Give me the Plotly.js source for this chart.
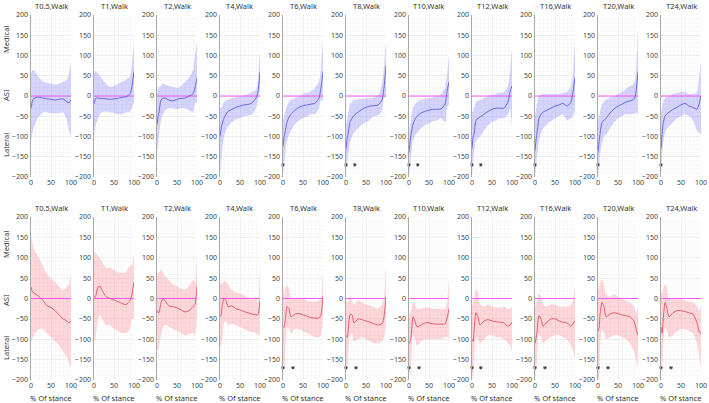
<!DOCTYPE html>
<html><head><meta charset="utf-8">
<script src="https://cdn.plot.ly/plotly-3.0.1.min.js"></script>
<style>html,body{margin:0;padding:0;background:#fff}#c{width:709px;height:403px}</style>
</head><body><div id="c"></div>
<script>
// ---- data ----
const titles = ["T0.5,Walk","T1,Walk","T2,Walk","T4,Walk","T6,Walk","T8,Walk","T10,Walk","T12,Walk","T16,Walk","T20,Walk","T24,Walk"];
const xPct = [0,3,5,10,15,20,30,40,50,60,70,80,90,95,100];
const yTicks = [-200,-150,-100,-50,0,50,100,150,200];
const xTicks = [0,50,100];

const topMean = [
 [-30,-15,-8,-5,-3,-3,-5,-7,-8,-10,-8,-7,-15,-17,-10],
 [-20,-8,-5,-5,-6,-6,-7,-8,-7,-6,-3,-2,5,25,60],
 [-70,-50,-40,-10,-5,-5,-10,-12,-8,-6,-5,0,5,20,45],
 [-100,-80,-70,-55,-45,-38,-33,-28,-25,-22,-21,-17,-5,10,60],
 [-125,-100,-90,-65,-52,-45,-35,-28,-24,-22,-20,-18,-5,20,60],
 [-130,-105,-95,-65,-55,-48,-40,-33,-28,-25,-24,-22,-10,20,75],
 [-140,-110,-95,-70,-58,-50,-42,-38,-35,-33,-33,-32,-20,10,35],
 [-130,-100,-95,-60,-55,-52,-45,-38,-33,-30,-30,-30,-15,10,25],
 [-135,-105,-90,-55,-45,-40,-35,-30,-25,-22,-18,-25,-15,10,45],
 [-140,-110,-95,-65,-60,-55,-42,-32,-25,-20,-15,-12,-8,10,60],
 [-130,-90,-70,-50,-44,-40,-33,-28,-22,-18,-25,-28,-33,-20,0]
];
const topUpper = [
 [55,62,65,60,52,45,35,32,30,28,30,35,40,55,85],
 [55,60,62,55,50,42,30,22,25,30,35,40,48,80,128],
 [10,18,22,25,30,28,25,22,20,25,35,45,65,100,130],
 [-30,-28,-25,-15,-12,-10,-5,-3,0,2,5,10,15,40,110],
 [-60,-48,-40,-25,-15,-10,-5,0,5,8,12,20,35,70,135],
 [-70,-55,-45,-20,-14,-10,-8,-7,-6,-5,-3,0,30,70,130],
 [-100,-70,-55,-30,-20,-15,-10,-7,-5,-3,0,5,20,50,100],
 [-40,-35,-30,-15,-12,-10,-5,0,3,5,8,10,25,60,115],
 [-50,-30,-20,0,3,5,5,5,5,5,8,10,25,60,135],
 [-60,-48,-40,-20,-14,-10,-3,0,5,10,18,25,30,60,165],
 [-40,-25,-15,-5,-2,0,5,7,10,10,5,5,10,40,85]
];
const topLower = [
 [-110,-95,-85,-70,-58,-50,-40,-40,-42,-43,-42,-40,-60,-85,-100],
 [-100,-80,-70,-55,-45,-40,-38,-40,-42,-45,-45,-40,-38,-30,-15],
 [-140,-115,-100,-60,-45,-35,-30,-30,-32,-30,-30,-35,-40,-20,-15],
 [-190,-160,-140,-100,-85,-75,-65,-58,-55,-50,-48,-45,-30,-10,20],
 [-190,-165,-150,-110,-95,-85,-70,-60,-55,-50,-45,-45,-30,-10,-10],
 [-185,-165,-150,-115,-100,-90,-80,-70,-65,-58,-50,-48,-35,-5,0],
 [-195,-170,-150,-110,-98,-90,-80,-72,-68,-62,-60,-55,-65,-30,-20],
 [-195,-160,-140,-110,-105,-100,-85,-72,-65,-60,-55,-55,-45,-30,-70],
 [-200,-170,-150,-110,-90,-80,-70,-62,-55,-50,-45,-60,-55,-50,-35],
 [-200,-170,-150,-115,-100,-95,-80,-65,-55,-50,-45,-45,-45,-40,-45],
 [-195,-150,-120,-90,-80,-75,-65,-55,-50,-45,-50,-60,-85,-90,-95]
];
const botMean = [
 [28,18,15,12,8,5,-5,-18,-22,-30,-40,-50,-55,-60,-55],
 [5,3,8,28,30,20,5,0,-3,-8,-12,-15,-5,10,40],
 [-30,-35,-35,-10,0,-5,-18,-20,-23,-28,-33,-30,-20,-15,30],
 [-45,-40,-20,0,-5,-20,-18,-25,-28,-32,-35,-38,-40,-40,-5],
 [-70,-70,-60,-20,-25,-45,-38,-37,-40,-43,-47,-48,-48,-40,5],
 [-90,-95,-85,-40,-40,-60,-50,-52,-55,-58,-62,-65,-62,-45,5],
 [-110,-105,-95,-45,-55,-70,-65,-60,-60,-62,-63,-63,-62,-50,-25],
 [-100,-105,-80,-35,-45,-65,-55,-52,-55,-57,-58,-60,-68,-65,-58],
 [-110,-95,-80,-42,-50,-68,-58,-50,-50,-55,-58,-60,-68,-62,-55],
 [-80,-70,-40,-10,-20,-45,-38,-35,-37,-40,-42,-45,-55,-75,-90],
 [-70,-85,-60,-10,-25,-45,-35,-30,-30,-32,-35,-38,-60,-80,-87]
];
const botUpper = [
 [150,140,130,115,108,100,80,60,50,40,30,20,30,35,60],
 [120,112,110,105,98,90,75,75,70,65,62,65,80,80,110],
 [60,62,65,70,65,55,45,35,30,25,22,30,45,40,105],
 [40,35,35,42,42,35,20,15,12,8,3,0,5,-10,70],
 [40,5,25,32,25,0,0,3,0,-5,-8,-8,-5,0,70],
 [0,-10,-10,5,-5,-15,-5,-10,-15,-18,-22,-25,-15,0,80],
 [-40,-35,-30,-10,-15,-25,-25,-22,-22,-25,-25,-25,-25,-10,50],
 [-20,-10,0,22,15,-15,-20,-15,-20,-22,-22,-20,-25,-25,-20],
 [-20,-10,-5,12,5,-15,-20,-15,-15,-20,-20,-20,-15,-5,30],
 [30,20,40,48,35,10,5,10,5,0,-5,-10,-20,-35,-25],
 [20,10,20,35,25,0,0,2,0,-5,-8,-10,-20,-30,-20]
];
const botLower = [
 [-105,-100,-95,-85,-80,-75,-75,-85,-95,-105,-115,-130,-145,-160,-170],
 [-105,-100,-90,-50,-40,-50,-65,-65,-75,-80,-85,-85,-75,-50,-50],
 [-130,-125,-120,-90,-70,-65,-70,-75,-80,-85,-90,-88,-85,-90,-45],
 [-120,-115,-110,-60,-55,-65,-62,-65,-70,-75,-80,-82,-85,-90,-90],
 [-150,-190,-150,-70,-75,-85,-75,-75,-80,-85,-90,-95,-95,-90,-50],
 [-160,-180,-150,-90,-85,-105,-100,-95,-100,-105,-110,-110,-105,-95,-60],
 [-175,-190,-160,-90,-100,-115,-105,-100,-100,-100,-100,-100,-95,-95,-100],
 [-180,-200,-160,-95,-100,-110,-100,-90,-90,-95,-95,-100,-110,-115,-130],
 [-200,-170,-150,-85,-95,-110,-100,-95,-90,-90,-95,-100,-115,-130,-145],
 [-190,-200,-130,-75,-85,-100,-95,-90,-90,-95,-100,-110,-130,-150,-165],
 [-160,-180,-130,-70,-80,-95,-90,-80,-75,-75,-80,-85,-110,-140,-170]
];
const topStarX = [[],[],[],[],[0],[0,22],[0,22],[0,22],[0],[0],[0]];
const botStarX = [[],[],[],[],[0,25],[0,25],[0,25],[0,22],[0,25],[0,25],[0,25]];
const starY = -170;

// ---- layout geometry (pixels) ----
const W = 709, H = 403;
const x0 = 31, step = 63, pw = 40;
const rows = [{top:15, bot:177}, {top:217, bot:380}];
const FONT = 'Noto Sans, DejaVu Sans, sans-serif';
const FS = 7.5, TFS = 7;

const traces = [];
const layout = {
  width: W, height: H, margin:{l:0,r:0,t:0,b:0},
  paper_bgcolor:'#fff', plot_bgcolor:'#fff', showlegend:false,
  font:{family:FONT, size:TFS, color:'#444'},
  annotations:[]
};
const styles = [
  {fill:'rgba(125,125,250,0.33)', line:'#5c5cd6', mean:topMean, up:topUpper, lo:topLower, stars:topStarX},
  {fill:'rgba(250,135,140,0.33)', line:'#e0506a', mean:botMean, up:botUpper, lo:botLower, stars:botStarX}
];
let n = 0;
for (let r = 0; r < 2; r++) {
  const S = styles[r];
  for (let i = 0; i < titles.length; i++) {
    n++;
    const xa = n === 1 ? 'x' : 'x' + n, ya = n === 1 ? 'y' : 'y' + n;
    const xk = n === 1 ? 'xaxis' : 'xaxis' + n, yk = n === 1 ? 'yaxis' : 'yaxis' + n;
    const L = x0 + step * i;
    layout[xk] = {
      domain:[L / W, (L + pw) / W], range:[0,100], anchor: ya,
      tickvals: xTicks, ticks:'', showline:false, zeroline:false,
      showgrid:true, gridcolor:'#e8e8e8', gridwidth:0.6,
      minor:{dtick:10, showgrid:true, gridcolor:'#f1f1f1', gridwidth:0.5},
      tickfont:{size:TFS, color:'#444'}, fixedrange:true
    };
    layout[yk] = {
      domain:[(H - rows[r].bot) / H, (H - rows[r].top) / H], range:[-200,200], anchor: xa,
      tickvals: yTicks, ticktext: yTicks.map(v => v < 0 ? '\u2212' + (-v) : '' + v),
      ticks:'', showline:true, linecolor:'#a8a8a8', linewidth:1.5, zeroline:false,
      showgrid:true, gridcolor:'#e8e8e8', gridwidth:0.6,
      minor:{dtick:10, showgrid:true, gridcolor:'#f1f1f1', gridwidth:0.5},
      tickfont:{size:TFS, color:'#444'}, fixedrange:true
    };
    // band
    const bx = xPct.concat(xPct.slice().reverse());
    const by = S.up[i].concat(S.lo[i].slice().reverse());
    traces.push({x:bx, y:by, xaxis:xa, yaxis:ya, type:'scatter', mode:'lines', fill:'toself',
      fillcolor:S.fill, line:{width:0, shape:'spline', smoothing:0.6}, hoverinfo:'skip'});
    // zero line
    traces.push({x:[0,100], y:[0,0], xaxis:xa, yaxis:ya, type:'scatter', mode:'lines',
      line:{color:'#ff55ff', width:1}, hoverinfo:'skip'});
    // mean
    traces.push({x:xPct, y:S.mean[i], xaxis:xa, yaxis:ya, type:'scatter', mode:'lines',
      line:{color:S.line, width:0.9, shape:'spline', smoothing:0.6}});
    // stars
    if (S.stars[i].length) {
      traces.push({x:S.stars[i], y:S.stars[i].map(() => starY), xaxis:xa, yaxis:ya, type:'scatter',
        mode:'markers', marker:{symbol:'asterisk-open', size:3, color:'#333', line:{width:0.8, color:'#333'}},
        cliponaxis:false});
    }
    // titles
    layout.annotations.push({text:titles[i], xref:'paper', yref:'paper',
      x:(L + pw / 2) / W, y:(H - (rows[r].top - 9)) / H, xanchor:'center', yanchor:'middle',
      showarrow:false, font:{family:FONT, size:FS, color:'#333'}});
    if (r === 1) {
      layout.annotations.push({text:'% Of stance', xref:'paper', yref:'paper',
        x:(L + pw / 2) / W, y:(H - 398) / H, xanchor:'center', yanchor:'middle',
        showarrow:false, font:{family:FONT, size:FS, color:'#333'}});
    }
  }
}
// side labels
const side = [[40,'Medical'],[95,'ASI'],[145,'Lateral'],[245,'Medical'],[300,'ASI'],[348,'Lateral']];
side.forEach(([py, t]) => layout.annotations.push({text:t, xref:'paper', yref:'paper',
  x:6 / W, y:(H - py) / H, xanchor:'center', yanchor:'middle', textangle:-90,
  showarrow:false, font:{family:FONT, size:FS, color:'#333'}}));

Plotly.newPlot('c', traces, layout, {staticPlot:true, displayModeBar:false});
</script></body></html>
